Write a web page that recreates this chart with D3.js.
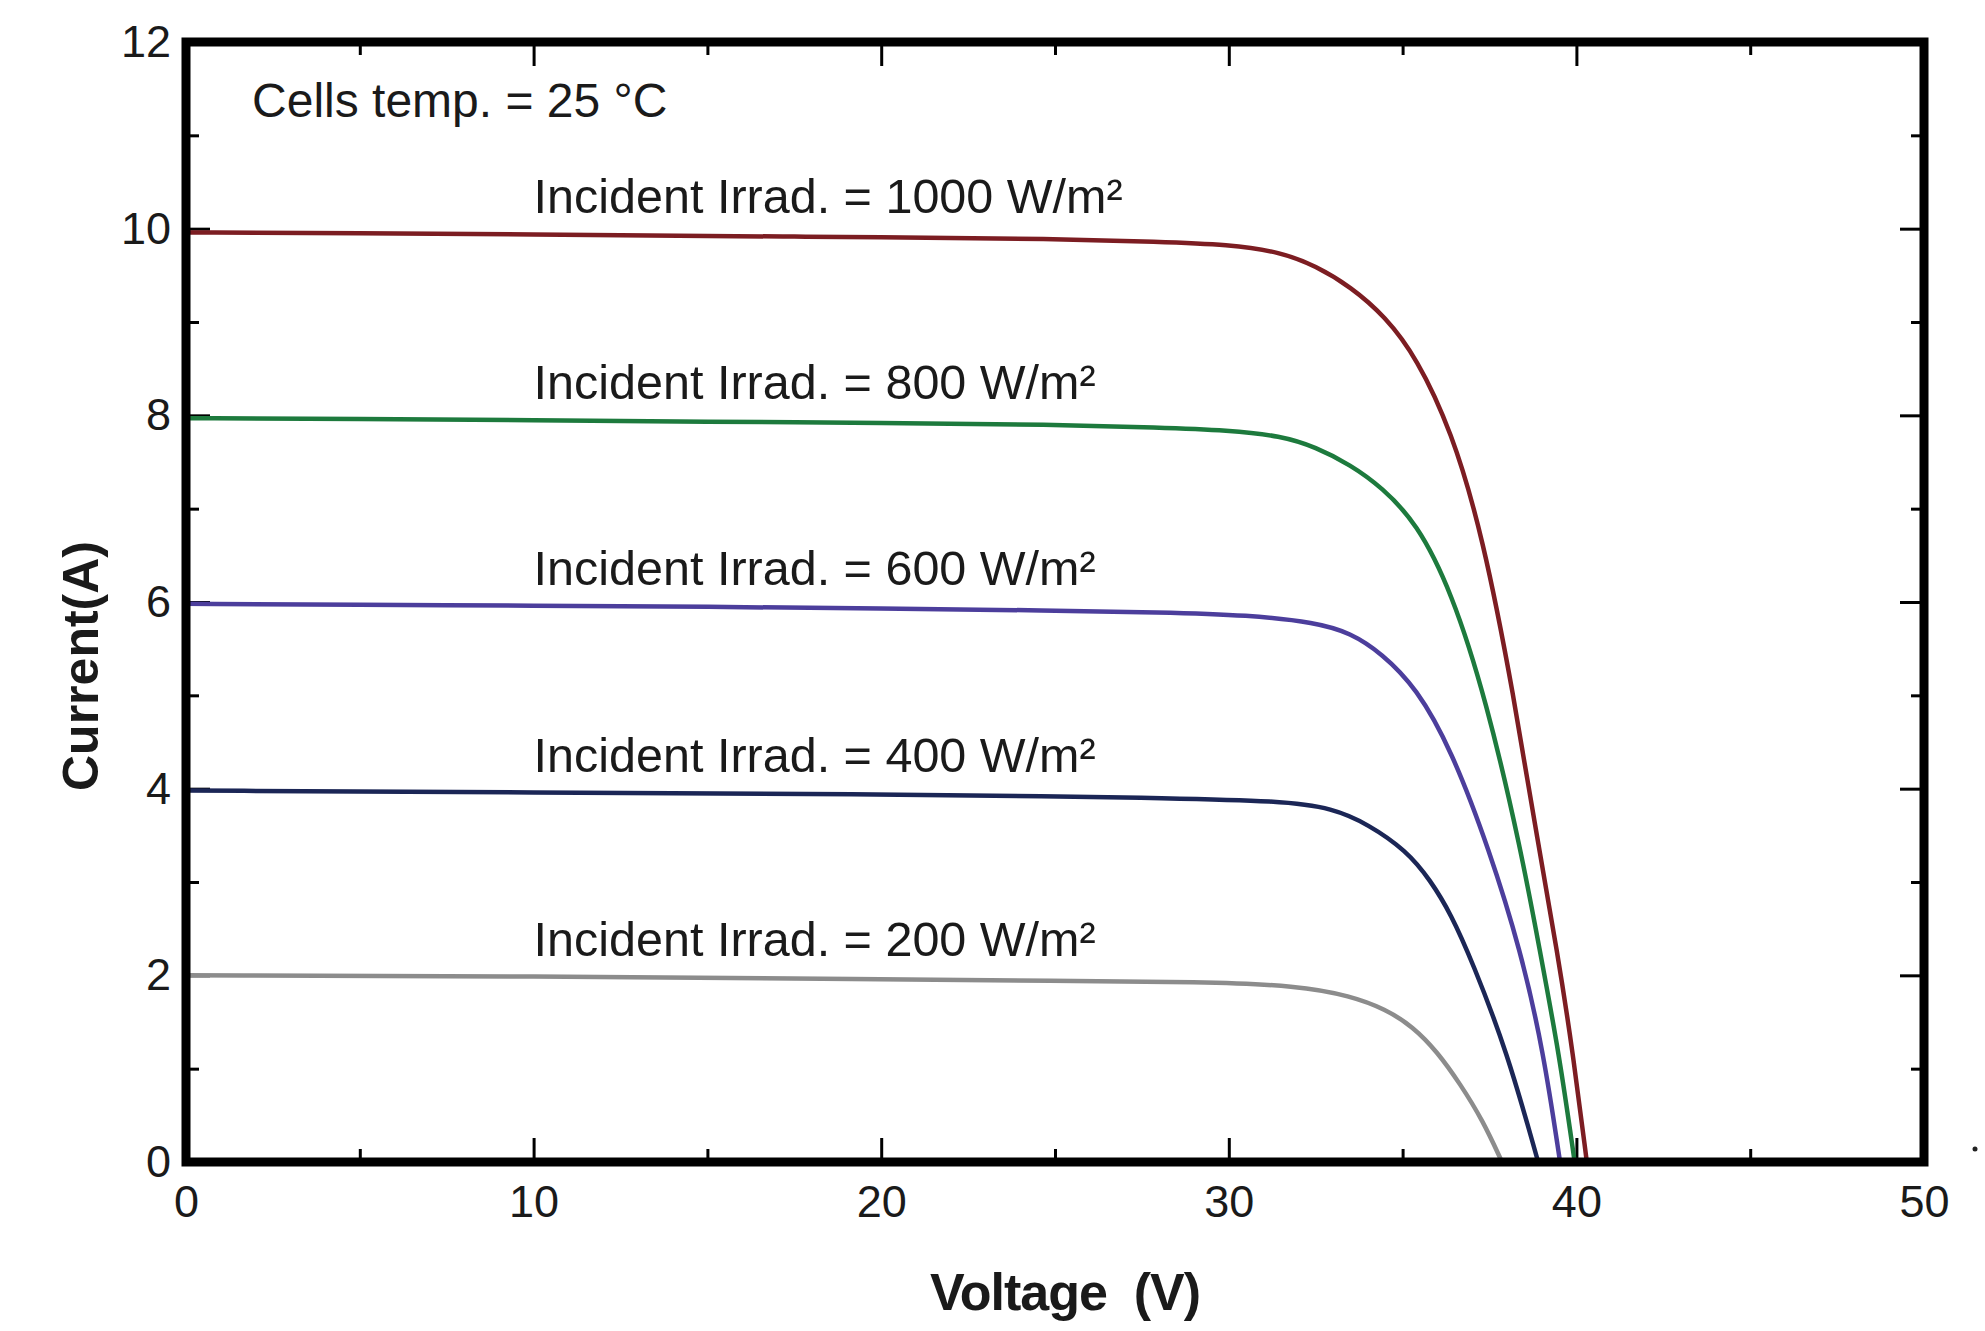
<!DOCTYPE html>
<html>
<head>
<meta charset="utf-8">
<script src="https://cdn.jsdelivr.net/npm/d3@7"></script>
<style>
  body { margin: 0; background: #fff; }
  svg { display: block; font-family: "Liberation Sans", Arial, Helvetica, sans-serif; }
</style>
</head>
<body>
<svg id="chart" width="1985" height="1331"></svg>
<script>
// I-V curves, [voltage (V), current (A)]
const irr1000 = [[0,9.96],[5,9.95],[10,9.94],[15,9.92],[20,9.91],[25,9.89],[28,9.86],[30,9.83],[31.5,9.75],[32.5,9.6],[33.5,9.38],[34.5,9.06],[35.4,8.62],[36.4,7.84],[37.3,6.72],[38.2,5.0],[38.9,3.4],[39.45,2.26],[39.9,1.17],[40.3,0]];
const irr800 = [[0,7.97],[5,7.96],[10,7.95],[15,7.93],[20,7.92],[25,7.9],[28,7.87],[30,7.84],[31.5,7.78],[32.5,7.66],[33.5,7.47],[34.4,7.23],[35.4,6.85],[36.4,6.12],[37.4,4.96],[38.4,3.36],[38.95,2.26],[39.5,1.17],[39.95,0]];
const irr600 = [[0,5.98],[5,5.97],[10,5.96],[15,5.95],[20,5.93],[24.9,5.91],[28,5.89],[30.6,5.86],[32.5,5.78],[33.5,5.67],[34.4,5.45],[35.4,5.08],[36.4,4.42],[37.5,3.34],[38.4,2.26],[39.05,1.19],[39.53,0]];
const irr400 = [[0,3.98],[10,3.96],[20,3.94],[24.9,3.92],[28,3.9],[31.5,3.87],[33,3.79],[34,3.62],[35.1,3.34],[35.8,3.02],[36.4,2.65],[37,2.15],[38,1.19],[38.9,0]];
const irr200 = [[0,2.0],[10,1.99],[20,1.96],[25,1.94],[29.2,1.93],[32,1.89],[33.5,1.78],[34.5,1.64],[35.3,1.45],[36,1.18],[36.65,0.84],[37.3,0.45],[37.86,0]];

const seriesNames = ['1000', '800', '600', '400', '200'];
const seriesData = [irr1000, irr800, irr600, irr400, irr200];
const seriesColors = ['#7c1d22', '#1d7a3d', '#4c3e9c', '#1b2656', '#8c8c8c'];

const xMajor = [0, 10, 20, 30, 40, 50];
const xMinor = [5, 15, 25, 35, 45];
const yMajor = [0, 2, 4, 6, 8, 10, 12];
const yMinor = [1, 3, 5, 7, 9, 11];

const svg = d3.select('#chart');
const x = d3.scaleLinear().domain([0, 50]).range([186, 1924]);
const y = d3.scaleLinear().domain([0, 12]).range([1162, 42]);
const ink = '#1a1a1a';

// axes (ticks point inward)
function styleAxis(g) {
  g.select('.domain').remove();
  g.selectAll('.tick line').attr('stroke', '#000').attr('stroke-width', 3);
  g.selectAll('.tick text').attr('fill', ink).style('font-size', '45px');
}

svg.append('g')
  .attr('transform', `translate(0,${y(0)})`)
  .call(d3.axisBottom(x).tickValues(xMajor).tickSize(-24).tickPadding(23))
  .call(styleAxis);
svg.append('g')
  .attr('transform', `translate(0,${y(0)})`)
  .call(d3.axisBottom(x).tickValues(xMinor).tickSize(-13).tickFormat(''))
  .call(styleAxis);
svg.append('g')
  .attr('transform', `translate(0,${y(12)})`)
  .call(d3.axisTop(x).tickValues(xMajor).tickSize(-24).tickFormat(''))
  .call(styleAxis);
svg.append('g')
  .attr('transform', `translate(0,${y(12)})`)
  .call(d3.axisTop(x).tickValues(xMinor).tickSize(-13).tickFormat(''))
  .call(styleAxis);

svg.append('g')
  .attr('transform', `translate(${x(0)},0)`)
  .call(d3.axisLeft(y).tickValues(yMajor).tickSize(-24).tickPadding(15))
  .call(styleAxis);
svg.append('g')
  .attr('transform', `translate(${x(0)},0)`)
  .call(d3.axisLeft(y).tickValues(yMinor).tickSize(-13).tickFormat(''))
  .call(styleAxis);
svg.append('g')
  .attr('transform', `translate(${x(50)},0)`)
  .call(d3.axisRight(y).tickValues(yMajor).tickSize(-24).tickFormat(''))
  .call(styleAxis);
svg.append('g')
  .attr('transform', `translate(${x(50)},0)`)
  .call(d3.axisRight(y).tickValues(yMinor).tickSize(-13).tickFormat(''))
  .call(styleAxis);

// curves
const line = d3.line()
  .x(d => x(d[0]))
  .y(d => y(d[1]))
  .curve(d3.curveBasis);

svg.append('g')
  .selectAll('path')
  .data(seriesData)
  .join('path')
  .attr('d', line)
  .attr('fill', 'none')
  .attr('stroke', (d, i) => seriesColors[i])
  .attr('stroke-width', 4.5)
  .attr('stroke-linejoin', 'round');

// curve labels, just above each short-circuit current
svg.append('g')
  .selectAll('text')
  .data(seriesData)
  .join('text')
  .attr('x', x(10))
  .attr('y', d => y(d[0][1]) - 19)
  .attr('fill', ink)
  .style('font-size', '48.5px')
  .text((d, i) => `Incident Irrad. = ${seriesNames[i]} W/m²`);

svg.append('text')
  .attr('x', x(1.9))
  .attr('y', 117)
  .attr('fill', ink)
  .style('font-size', '48px')
  .text('Cells temp. = 25 °C');

// frame
svg.append('rect')
  .attr('x', x(0))
  .attr('y', y(12))
  .attr('width', x(50) - x(0))
  .attr('height', y(0) - y(12))
  .attr('fill', 'none')
  .attr('stroke', '#000')
  .attr('stroke-width', 9);

// axis titles
svg.append('text')
  .attr('x', x(25) + 10)
  .attr('y', 1310)
  .attr('text-anchor', 'middle')
  .attr('fill', ink)
  .style('font-size', '52px')
  .style('font-weight', 700)
  .style('letter-spacing', '-1px')
  .style('white-space', 'pre')
  .text('Voltage  (V)');

svg.append('text')
  .attr('transform', 'translate(98,666) rotate(-90)')
  .attr('text-anchor', 'middle')
  .attr('fill', ink)
  .style('font-size', '50px')
  .style('font-weight', 700)
  .text('Current(A)');

// stray mark right of the frame
svg.append('circle')
  .attr('cx', 1975)
  .attr('cy', 1149)
  .attr('r', 2.5)
  .attr('fill', '#222');
</script>
</body>
</html>
